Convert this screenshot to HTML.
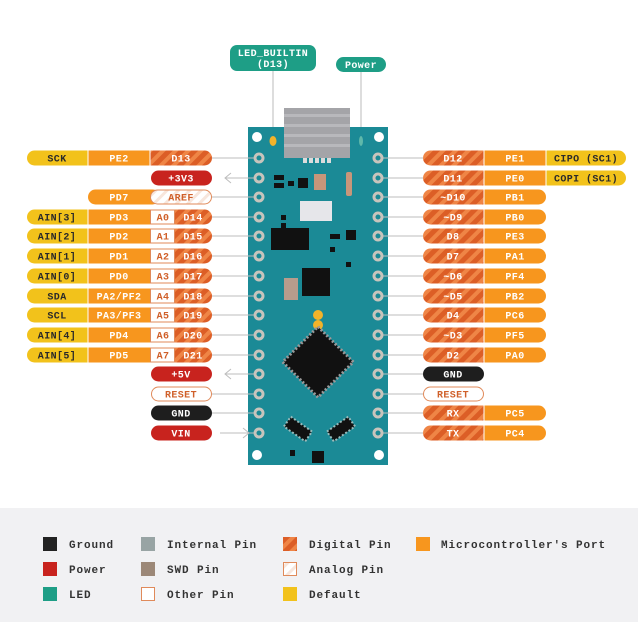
<!DOCTYPE html>
<html><head><meta charset="utf-8"><style>
html,body{margin:0;padding:0;background:#fff;}
svg{display:block;}
text{font-family:"Liberation Mono",monospace;font-weight:bold;font-size:10px;text-anchor:middle;letter-spacing:0.4px;}
.w{fill:#fff}.d{fill:#2a2a2a}.o{fill:#d0602a}
.lg text{text-anchor:start;font-size:11px;fill:#333;letter-spacing:0.9px;}
</style></head><body>
<svg width="638" height="631" viewBox="0 0 638 631" xmlns="http://www.w3.org/2000/svg">
<defs>
<pattern id="st" width="9" height="9" patternUnits="userSpaceOnUse" patternTransform="rotate(45)">
<rect width="9" height="9" fill="#dc5e26"/><rect width="4" height="9" fill="#ef8546"/></pattern>
<pattern id="an" width="8" height="8" patternUnits="userSpaceOnUse" patternTransform="rotate(45)">
<rect width="8" height="8" fill="#fff"/><rect width="3" height="8" fill="#f7e6dc"/></pattern>
</defs>
<rect width="638" height="631" fill="#fff"/>
<rect x="0" y="508" width="638" height="114" fill="#f1f1f3"/>

<line x1="273" y1="71" x2="273" y2="134" stroke="#bbb" stroke-width="1"/>
<line x1="361" y1="71" x2="361" y2="134" stroke="#bbb" stroke-width="1"/>
<rect x="230" y="45" width="86" height="26" rx="7" fill="#1e9e86"/>
<text x="273" y="56" class="w" style="font-size:10px">LED_BUILTIN</text>
<text x="273" y="67" class="w" style="font-size:10px">(D13)</text>
<rect x="336" y="57" width="50" height="15" rx="7.5" fill="#1e9e86"/>
<text x="361" y="68" class="w">Power</text>

<rect x="248" y="127" width="140" height="338" fill="#1b8a96"/>
<rect x="284" y="108" width="66" height="50" fill="#a4a4a8"/>
<g fill="#b8b8bc"><rect x="284" y="114" width="66" height="3"/><rect x="284" y="124" width="66" height="3"/><rect x="284" y="134" width="66" height="3"/><rect x="284" y="144" width="66" height="3"/></g>
<g fill="#dcdcdc"><rect x="303" y="158" width="4" height="5"/><rect x="309" y="158" width="4" height="5"/><rect x="315" y="158" width="4" height="5"/><rect x="321" y="158" width="4" height="5"/><rect x="327" y="158" width="4" height="5"/></g>
<circle cx="257" cy="137" r="5" fill="#fff"/><circle cx="379" cy="137" r="5" fill="#fff"/>
<circle cx="257" cy="455" r="5" fill="#fff"/><circle cx="379" cy="455" r="5" fill="#fff"/>
<ellipse cx="273" cy="141" rx="3.5" ry="5" fill="#f2b32a"/>
<ellipse cx="361" cy="141" rx="2" ry="5" fill="#5fb8aa"/>
<g fill="#111">
<rect x="271" y="228" width="38" height="22"/>
<rect x="302" y="268" width="28" height="28"/>
<rect x="288" y="181" width="6" height="5"/><rect x="274" y="175" width="10" height="5"/><rect x="274" y="183" width="10" height="5"/>
<rect x="298" y="178" width="10" height="10"/><rect x="346" y="230" width="10" height="10"/>
<rect x="330" y="234" width="10" height="5"/><rect x="330" y="247" width="5" height="5"/>
<rect x="281" y="215" width="5" height="5"/><rect x="281" y="223" width="5" height="5"/>
<rect x="346" y="262" width="5" height="5"/><rect x="290" y="450" width="5" height="6"/>
<rect x="312" y="451" width="12" height="12"/>
</g>
<rect x="300" y="201" width="32" height="20" fill="#e6e6ea"/>
<rect x="314" y="174" width="12" height="16" fill="#c8967a"/>
<rect x="346" y="172" width="6" height="24" rx="2" fill="#c8967a"/>
<rect x="284" y="278" width="14" height="22" fill="#b89c8c"/>
<circle cx="318" cy="315" r="5" fill="#f2b32a"/><circle cx="318" cy="325" r="5" fill="#f2b32a"/>
<rect x="293" y="337" width="50" height="50" transform="rotate(45 318 362)" fill="#111" stroke="#999" stroke-width="3" stroke-dasharray="2 2"/>
<rect x="285" y="423" width="26" height="12" transform="rotate(35 298 429)" fill="#111" stroke="#9bb" stroke-width="2" stroke-dasharray="2 2"/>
<rect x="328" y="423" width="26" height="12" transform="rotate(-35 341 429)" fill="#111" stroke="#9bb" stroke-width="2" stroke-dasharray="2 2"/>

<g fill="#1b8a96" stroke="#c8c4bc" stroke-width="3">
<circle cx="259" cy="158" r="4"/><circle cx="259" cy="178" r="4"/><circle cx="259" cy="197" r="4"/><circle cx="259" cy="217" r="4"/><circle cx="259" cy="236" r="4"/><circle cx="259" cy="256" r="4"/><circle cx="259" cy="276" r="4"/><circle cx="259" cy="296" r="4"/><circle cx="259" cy="315" r="4"/><circle cx="259" cy="335" r="4"/><circle cx="259" cy="355" r="4"/><circle cx="259" cy="374" r="4"/><circle cx="259" cy="394" r="4"/><circle cx="259" cy="413" r="4"/><circle cx="259" cy="433" r="4"/>
<circle cx="378" cy="158" r="4"/><circle cx="378" cy="178" r="4"/><circle cx="378" cy="197" r="4"/><circle cx="378" cy="217" r="4"/><circle cx="378" cy="236" r="4"/><circle cx="378" cy="256" r="4"/><circle cx="378" cy="276" r="4"/><circle cx="378" cy="296" r="4"/><circle cx="378" cy="315" r="4"/><circle cx="378" cy="335" r="4"/><circle cx="378" cy="355" r="4"/><circle cx="378" cy="374" r="4"/><circle cx="378" cy="394" r="4"/><circle cx="378" cy="413" r="4"/><circle cx="378" cy="433" r="4"/>
</g>
<g stroke="#bdbdbd" stroke-width="1">
<line x1="212" y1="158" x2="254" y2="158"/><line x1="212" y1="197" x2="254" y2="197"/><line x1="212" y1="217" x2="254" y2="217"/><line x1="212" y1="236" x2="254" y2="236"/><line x1="212" y1="256" x2="254" y2="256"/><line x1="212" y1="276" x2="254" y2="276"/><line x1="212" y1="296" x2="254" y2="296"/><line x1="212" y1="315" x2="254" y2="315"/><line x1="212" y1="335" x2="254" y2="335"/><line x1="212" y1="355" x2="254" y2="355"/><line x1="212" y1="394" x2="254" y2="394"/><line x1="212" y1="413" x2="254" y2="413"/>
<line x1="225" y1="178" x2="254" y2="178"/><line x1="225" y1="374" x2="254" y2="374"/><line x1="220" y1="433" x2="254" y2="433"/>
<polyline points="231,173 225,178 231,183" fill="none"/><polyline points="231,369 225,374 231,379" fill="none"/><polyline points="243,428 249,433 243,438" fill="none"/>
<line x1="383" y1="158" x2="423" y2="158"/><line x1="383" y1="178" x2="423" y2="178"/><line x1="383" y1="197" x2="423" y2="197"/><line x1="383" y1="217" x2="423" y2="217"/><line x1="383" y1="236" x2="423" y2="236"/><line x1="383" y1="256" x2="423" y2="256"/><line x1="383" y1="276" x2="423" y2="276"/><line x1="383" y1="296" x2="423" y2="296"/><line x1="383" y1="315" x2="423" y2="315"/><line x1="383" y1="335" x2="423" y2="335"/><line x1="383" y1="355" x2="423" y2="355"/><line x1="383" y1="374" x2="423" y2="374"/><line x1="383" y1="394" x2="423" y2="394"/><line x1="383" y1="413" x2="423" y2="413"/><line x1="383" y1="433" x2="423" y2="433"/>
</g>

<g transform="translate(0,158)"><rect x="140" y="-7.5" width="72" height="15" rx="7.5" fill="url(#st)"/><rect x="27" y="-7.5" width="70" height="15" rx="7.5" fill="#f2c21b"/><rect x="88" y="-7.5" width="62" height="15" fill="#f7961e"/><line x1="88" y1="-7.5" x2="88" y2="7.5" stroke="#fff"/><line x1="150" y1="-7.5" x2="150" y2="7.5" stroke="#fff"/><text x="57" y="3.5" class="d">SCK</text><text x="119" y="3.5" class="w">PE2</text><text x="181" y="3.5" class="w">D13</text></g>
<g transform="translate(0,178)"><rect x="151" y="-7.5" width="61" height="15" rx="7.5" fill="#c8231e"/><text x="181" y="3.5" class="w">+3V3</text></g>
<g transform="translate(0,197)"><rect x="88" y="-7.5" width="72" height="15" rx="7.5" fill="#f7961e"/><rect x="150.5" y="-7" width="61" height="14" rx="7" fill="url(#an)" stroke="#e08a5a"/><text x="119" y="3.5" class="w">PD7</text><text x="181" y="3.5" class="o">AREF</text></g>

<g transform="translate(0,217)"><rect x="140" y="-7.5" width="72" height="15" rx="7.5" fill="url(#st)"/><rect x="27" y="-7.5" width="70" height="15" rx="7.5" fill="#f2c21b"/><rect x="88" y="-7.5" width="62" height="15" fill="#f7961e"/><rect x="150.5" y="-7" width="24" height="14" fill="#fff" stroke="#e08a5a"/><line x1="88" y1="-7.5" x2="88" y2="7.5" stroke="#fff"/><text x="57" y="3.5" class="d">AIN[3]</text><text x="119" y="3.5" class="w">PD3</text><text x="163" y="3.5" class="o">A0</text><text x="193" y="3.5" class="w">D14</text></g>
<g transform="translate(0,236)"><rect x="140" y="-7.5" width="72" height="15" rx="7.5" fill="url(#st)"/><rect x="27" y="-7.5" width="70" height="15" rx="7.5" fill="#f2c21b"/><rect x="88" y="-7.5" width="62" height="15" fill="#f7961e"/><rect x="150.5" y="-7" width="24" height="14" fill="#fff" stroke="#e08a5a"/><line x1="88" y1="-7.5" x2="88" y2="7.5" stroke="#fff"/><text x="57" y="3.5" class="d">AIN[2]</text><text x="119" y="3.5" class="w">PD2</text><text x="163" y="3.5" class="o">A1</text><text x="193" y="3.5" class="w">D15</text></g>
<g transform="translate(0,256)"><rect x="140" y="-7.5" width="72" height="15" rx="7.5" fill="url(#st)"/><rect x="27" y="-7.5" width="70" height="15" rx="7.5" fill="#f2c21b"/><rect x="88" y="-7.5" width="62" height="15" fill="#f7961e"/><rect x="150.5" y="-7" width="24" height="14" fill="#fff" stroke="#e08a5a"/><line x1="88" y1="-7.5" x2="88" y2="7.5" stroke="#fff"/><text x="57" y="3.5" class="d">AIN[1]</text><text x="119" y="3.5" class="w">PD1</text><text x="163" y="3.5" class="o">A2</text><text x="193" y="3.5" class="w">D16</text></g>
<g transform="translate(0,276)"><rect x="140" y="-7.5" width="72" height="15" rx="7.5" fill="url(#st)"/><rect x="27" y="-7.5" width="70" height="15" rx="7.5" fill="#f2c21b"/><rect x="88" y="-7.5" width="62" height="15" fill="#f7961e"/><rect x="150.5" y="-7" width="24" height="14" fill="#fff" stroke="#e08a5a"/><line x1="88" y1="-7.5" x2="88" y2="7.5" stroke="#fff"/><text x="57" y="3.5" class="d">AIN[0]</text><text x="119" y="3.5" class="w">PD0</text><text x="163" y="3.5" class="o">A3</text><text x="193" y="3.5" class="w">D17</text></g>
<g transform="translate(0,296)"><rect x="140" y="-7.5" width="72" height="15" rx="7.5" fill="url(#st)"/><rect x="27" y="-7.5" width="70" height="15" rx="7.5" fill="#f2c21b"/><rect x="88" y="-7.5" width="62" height="15" fill="#f7961e"/><rect x="150.5" y="-7" width="24" height="14" fill="#fff" stroke="#e08a5a"/><line x1="88" y1="-7.5" x2="88" y2="7.5" stroke="#fff"/><text x="57" y="3.5" class="d">SDA</text><text x="119" y="3.5" class="w">PA2/PF2</text><text x="163" y="3.5" class="o">A4</text><text x="193" y="3.5" class="w">D18</text></g>
<g transform="translate(0,315)"><rect x="140" y="-7.5" width="72" height="15" rx="7.5" fill="url(#st)"/><rect x="27" y="-7.5" width="70" height="15" rx="7.5" fill="#f2c21b"/><rect x="88" y="-7.5" width="62" height="15" fill="#f7961e"/><rect x="150.5" y="-7" width="24" height="14" fill="#fff" stroke="#e08a5a"/><line x1="88" y1="-7.5" x2="88" y2="7.5" stroke="#fff"/><text x="57" y="3.5" class="d">SCL</text><text x="119" y="3.5" class="w">PA3/PF3</text><text x="163" y="3.5" class="o">A5</text><text x="193" y="3.5" class="w">D19</text></g>
<g transform="translate(0,335)"><rect x="140" y="-7.5" width="72" height="15" rx="7.5" fill="url(#st)"/><rect x="27" y="-7.5" width="70" height="15" rx="7.5" fill="#f2c21b"/><rect x="88" y="-7.5" width="62" height="15" fill="#f7961e"/><rect x="150.5" y="-7" width="24" height="14" fill="#fff" stroke="#e08a5a"/><line x1="88" y1="-7.5" x2="88" y2="7.5" stroke="#fff"/><text x="57" y="3.5" class="d">AIN[4]</text><text x="119" y="3.5" class="w">PD4</text><text x="163" y="3.5" class="o">A6</text><text x="193" y="3.5" class="w">D20</text></g>
<g transform="translate(0,355)"><rect x="140" y="-7.5" width="72" height="15" rx="7.5" fill="url(#st)"/><rect x="27" y="-7.5" width="70" height="15" rx="7.5" fill="#f2c21b"/><rect x="88" y="-7.5" width="62" height="15" fill="#f7961e"/><rect x="150.5" y="-7" width="24" height="14" fill="#fff" stroke="#e08a5a"/><line x1="88" y1="-7.5" x2="88" y2="7.5" stroke="#fff"/><text x="57" y="3.5" class="d">AIN[5]</text><text x="119" y="3.5" class="w">PD5</text><text x="163" y="3.5" class="o">A7</text><text x="193" y="3.5" class="w">D21</text></g>

<g transform="translate(0,374)"><rect x="151" y="-7.5" width="61" height="15" rx="7.5" fill="#c8231e"/><text x="181" y="3.5" class="w">+5V</text></g>
<g transform="translate(0,394)"><rect x="151.5" y="-7" width="60" height="14" rx="7" fill="#fff" stroke="#e08a5a"/><text x="181" y="3.5" class="o">RESET</text></g>
<g transform="translate(0,413)"><rect x="151" y="-7.5" width="61" height="15" rx="7.5" fill="#1e1e1e"/><text x="181" y="3.5" class="w">GND</text></g>
<g transform="translate(0,433)"><rect x="151" y="-7.5" width="61" height="15" rx="7.5" fill="#c8231e"/><text x="181" y="3.5" class="w">VIN</text></g>

<g transform="translate(0,158)"><rect x="423" y="-7.5" width="72" height="15" rx="7.5" fill="url(#st)"/><rect x="540" y="-7.5" width="86" height="15" rx="7.5" fill="#f2c21b"/><rect x="484" y="-7.5" width="62" height="15" fill="#f7961e"/><line x1="484" y1="-7.5" x2="484" y2="7.5" stroke="#fff"/><line x1="546" y1="-7.5" x2="546" y2="7.5" stroke="#fff"/><text x="453" y="3.5" class="w">D12</text><text x="515" y="3.5" class="w">PE1</text><text x="586" y="3.5" class="d">CIPO (SC1)</text></g>
<g transform="translate(0,178)"><rect x="423" y="-7.5" width="72" height="15" rx="7.5" fill="url(#st)"/><rect x="540" y="-7.5" width="86" height="15" rx="7.5" fill="#f2c21b"/><rect x="484" y="-7.5" width="62" height="15" fill="#f7961e"/><line x1="484" y1="-7.5" x2="484" y2="7.5" stroke="#fff"/><line x1="546" y1="-7.5" x2="546" y2="7.5" stroke="#fff"/><text x="453" y="3.5" class="w">D11</text><text x="515" y="3.5" class="w">PE0</text><text x="586" y="3.5" class="d">COPI (SC1)</text></g>
<g transform="translate(0,197)"><rect x="423" y="-7.5" width="72" height="15" rx="7.5" fill="url(#st)"/><rect x="484" y="-7.5" width="62" height="15" rx="7.5" fill="#f7961e"/><rect x="484" y="-7.5" width="10" height="15" fill="#f7961e"/><line x1="484" y1="-7.5" x2="484" y2="7.5" stroke="#fff"/><text x="453" y="3.5" class="w">~D10</text><text x="515" y="3.5" class="w">PB1</text></g>
<g transform="translate(0,217)"><rect x="423" y="-7.5" width="72" height="15" rx="7.5" fill="url(#st)"/><rect x="484" y="-7.5" width="62" height="15" rx="7.5" fill="#f7961e"/><rect x="484" y="-7.5" width="10" height="15" fill="#f7961e"/><line x1="484" y1="-7.5" x2="484" y2="7.5" stroke="#fff"/><text x="453" y="3.5" class="w">~D9</text><text x="515" y="3.5" class="w">PB0</text></g>
<g transform="translate(0,236)"><rect x="423" y="-7.5" width="72" height="15" rx="7.5" fill="url(#st)"/><rect x="484" y="-7.5" width="62" height="15" rx="7.5" fill="#f7961e"/><rect x="484" y="-7.5" width="10" height="15" fill="#f7961e"/><line x1="484" y1="-7.5" x2="484" y2="7.5" stroke="#fff"/><text x="453" y="3.5" class="w">D8</text><text x="515" y="3.5" class="w">PE3</text></g>
<g transform="translate(0,256)"><rect x="423" y="-7.5" width="72" height="15" rx="7.5" fill="url(#st)"/><rect x="484" y="-7.5" width="62" height="15" rx="7.5" fill="#f7961e"/><rect x="484" y="-7.5" width="10" height="15" fill="#f7961e"/><line x1="484" y1="-7.5" x2="484" y2="7.5" stroke="#fff"/><text x="453" y="3.5" class="w">D7</text><text x="515" y="3.5" class="w">PA1</text></g>
<g transform="translate(0,276)"><rect x="423" y="-7.5" width="72" height="15" rx="7.5" fill="url(#st)"/><rect x="484" y="-7.5" width="62" height="15" rx="7.5" fill="#f7961e"/><rect x="484" y="-7.5" width="10" height="15" fill="#f7961e"/><line x1="484" y1="-7.5" x2="484" y2="7.5" stroke="#fff"/><text x="453" y="3.5" class="w">~D6</text><text x="515" y="3.5" class="w">PF4</text></g>
<g transform="translate(0,296)"><rect x="423" y="-7.5" width="72" height="15" rx="7.5" fill="url(#st)"/><rect x="484" y="-7.5" width="62" height="15" rx="7.5" fill="#f7961e"/><rect x="484" y="-7.5" width="10" height="15" fill="#f7961e"/><line x1="484" y1="-7.5" x2="484" y2="7.5" stroke="#fff"/><text x="453" y="3.5" class="w">~D5</text><text x="515" y="3.5" class="w">PB2</text></g>
<g transform="translate(0,315)"><rect x="423" y="-7.5" width="72" height="15" rx="7.5" fill="url(#st)"/><rect x="484" y="-7.5" width="62" height="15" rx="7.5" fill="#f7961e"/><rect x="484" y="-7.5" width="10" height="15" fill="#f7961e"/><line x1="484" y1="-7.5" x2="484" y2="7.5" stroke="#fff"/><text x="453" y="3.5" class="w">D4</text><text x="515" y="3.5" class="w">PC6</text></g>
<g transform="translate(0,335)"><rect x="423" y="-7.5" width="72" height="15" rx="7.5" fill="url(#st)"/><rect x="484" y="-7.5" width="62" height="15" rx="7.5" fill="#f7961e"/><rect x="484" y="-7.5" width="10" height="15" fill="#f7961e"/><line x1="484" y1="-7.5" x2="484" y2="7.5" stroke="#fff"/><text x="453" y="3.5" class="w">~D3</text><text x="515" y="3.5" class="w">PF5</text></g>
<g transform="translate(0,355)"><rect x="423" y="-7.5" width="72" height="15" rx="7.5" fill="url(#st)"/><rect x="484" y="-7.5" width="62" height="15" rx="7.5" fill="#f7961e"/><rect x="484" y="-7.5" width="10" height="15" fill="#f7961e"/><line x1="484" y1="-7.5" x2="484" y2="7.5" stroke="#fff"/><text x="453" y="3.5" class="w">D2</text><text x="515" y="3.5" class="w">PA0</text></g>
<g transform="translate(0,374)"><rect x="423" y="-7.5" width="61" height="15" rx="7.5" fill="#1e1e1e"/><text x="453" y="3.5" class="w">GND</text></g>
<g transform="translate(0,394)"><rect x="423.5" y="-7" width="60" height="14" rx="7" fill="#fff" stroke="#e08a5a"/><text x="453" y="3.5" class="o">RESET</text></g>
<g transform="translate(0,413)"><rect x="423" y="-7.5" width="72" height="15" rx="7.5" fill="url(#st)"/><rect x="484" y="-7.5" width="62" height="15" rx="7.5" fill="#f7961e"/><rect x="484" y="-7.5" width="10" height="15" fill="#f7961e"/><line x1="484" y1="-7.5" x2="484" y2="7.5" stroke="#fff"/><text x="453" y="3.5" class="w">RX</text><text x="515" y="3.5" class="w">PC5</text></g>
<g transform="translate(0,433)"><rect x="423" y="-7.5" width="72" height="15" rx="7.5" fill="url(#st)"/><rect x="484" y="-7.5" width="62" height="15" rx="7.5" fill="#f7961e"/><rect x="484" y="-7.5" width="10" height="15" fill="#f7961e"/><line x1="484" y1="-7.5" x2="484" y2="7.5" stroke="#fff"/><text x="453" y="3.5" class="w">TX</text><text x="515" y="3.5" class="w">PC4</text></g>

<g class="lg">
<rect x="43" y="537" width="14" height="14" fill="#222"/><text x="69" y="548">Ground</text>
<rect x="43" y="562" width="14" height="14" fill="#c8231e"/><text x="69" y="573">Power</text>
<rect x="43" y="587" width="14" height="14" fill="#1e9e86"/><text x="69" y="598">LED</text>
<rect x="141" y="537" width="14" height="14" fill="#98a4a4"/><text x="167" y="548">Internal Pin</text>
<rect x="141" y="562" width="14" height="14" fill="#9c8878"/><text x="167" y="573">SWD Pin</text>
<rect x="141.5" y="587.5" width="13" height="13" fill="#fff" stroke="#e08a5a"/><text x="167" y="598">Other Pin</text>
<rect x="283" y="537" width="14" height="14" fill="url(#st)"/><text x="309" y="548">Digital Pin</text>
<rect x="283.5" y="562.5" width="13" height="13" fill="url(#an)" stroke="#e08a5a"/><text x="309" y="573">Analog Pin</text>
<rect x="283" y="587" width="14" height="14" fill="#f2c21b"/><text x="309" y="598">Default</text>
<rect x="416" y="537" width="14" height="14" fill="#f7961e"/><text x="441" y="548">Microcontroller's Port</text>
</g>
</svg>
</body></html>
